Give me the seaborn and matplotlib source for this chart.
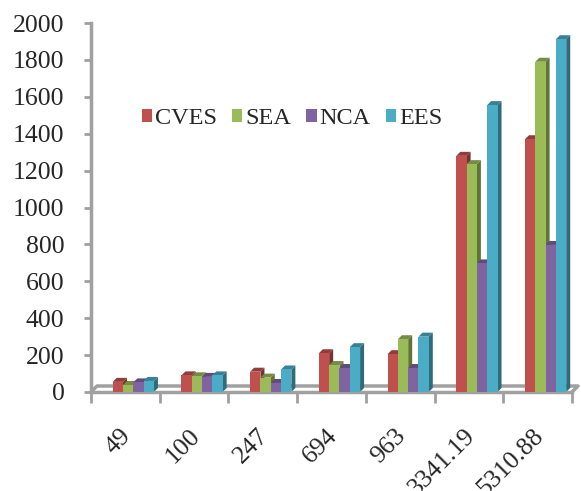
import numpy as np
import pandas as pd
import matplotlib
matplotlib.use("Agg")
import matplotlib.pyplot as plt
from matplotlib.patches import Polygon
from matplotlib.lines import Line2D
import seaborn as sns

# ---- data ----
categories = ["49", "100", "247", "694", "963", "3341.19", "5310.88"]
series_names = ["CVES", "SEA", "NCA", "EES"]
cves = [55, 90, 110, 210, 205, 1280, 1370]
sea = [38, 85, 78, 146, 286, 1235, 1790]
nca = [52, 82, 49, 130, 130, 697, 797]
ees = [60, 90, 122, 243, 300, 1555, 1912]
y_ticks = [0, 200, 400, 600, 800, 1000, 1200, 1400, 1600, 1800, 2000]
colors = ["#C0504D", "#9BBB59", "#8064A2", "#4BACC6"]

df = pd.DataFrame({
    "cat": categories * 4,
    "series": sum([[s] * len(categories) for s in series_names], []),
    "value": cves + sea + nca + ees,
})

sns.set_style("white")
plt.rcParams["font.family"] = ["Liberation Serif", "DejaVu Serif"]

W, H = 581, 491
fig = plt.figure(figsize=(W / 100, H / 100), dpi=100)
ax_l, ax_r, ax_b, ax_t = 91, 572, 392, 23
ax = fig.add_axes([ax_l / W, 1 - ax_b / H, (ax_r - ax_l) / W, (ax_b - ax_t) / H])

sns.barplot(data=df, x="cat", y="value", hue="series", order=categories,
            hue_order=series_names, palette=colors, width=0.6, saturation=1,
            ax=ax, edgecolor="none", linewidth=0, zorder=3)

shift = 0.616
ax.set_xlim(-shift, len(categories) - shift)
ax.set_ylim(0, 2000)

# pseudo 3D faces derived from each bar patch
px_x = (ax_r - ax_l) / len(categories)  # pixels per category unit
px_y = (ax_b - ax_t) / 2000.0
depth = 4.0
dxd = depth / px_x
dyd = depth / px_y


def shade(c, f):
    r, g, b = matplotlib.colors.to_rgb(c)
    return (r * f, g * f, b * f)


for bar in list(ax.patches):
    x, y = bar.get_x(), bar.get_y()
    w, h = bar.get_width(), bar.get_height()
    if h <= 0:
        continue
    fc = bar.get_facecolor()
    bar.set_zorder(3)
    side = Polygon([(x + w, y), (x + w + dxd, y + dyd), (x + w + dxd, y + h + dyd), (x + w, y + h)],
                   closed=True, facecolor=shade(fc, 0.62), edgecolor="none", zorder=2.5)
    top = Polygon([(x, y + h), (x + dxd, y + h + dyd), (x + w + dxd, y + h + dyd), (x + w, y + h)],
                  closed=True, facecolor=shade(fc, 0.75), edgecolor="none", zorder=2.5)
    ax.add_patch(side)
    ax.add_patch(top)

# axes styling
gray = "#A0A0A0"
for s in ["top", "right"]:
    ax.spines[s].set_visible(False)
for s in ["left", "bottom"]:
    ax.spines[s].set_color(gray)
    ax.spines[s].set_linewidth(2.5)

# floor back edge
fx = 6.0 / (ax_r - ax_l)
fy = 6.0 / (ax_b - ax_t)
ax.add_line(Line2D([0, fx, 1 + fx, 1], [0, fy, fy, 0], transform=ax.transAxes,
                   color=gray, linewidth=2.5, clip_on=False, zorder=1))

ax.set_yticks(y_ticks)
ax.set_yticklabels([str(v) for v in y_ticks], fontsize=18.5)
ax.tick_params(axis="y", which="major", length=5, width=2, color=gray, pad=14, left=True)

pos = np.arange(len(categories))
ax.set_xticks(pos - 0.08)
ax.set_xticklabels(categories, fontsize=18.5, rotation=45, ha="right", va="center",
                   rotation_mode="anchor")
ax.tick_params(axis="x", which="major", length=0, pad=29)
ax.set_xticks(np.arange(len(categories) + 1) - shift, minor=True)
ax.tick_params(axis="x", which="minor", length=8, width=2, color=gray, bottom=True)

ax.set_xlabel("")
ax.set_ylabel("")

leg = ax.get_legend()
if leg is not None:
    leg.remove()
handles = [plt.Rectangle((0, 0), 1, 1, facecolor=c, edgecolor="none") for c in colors]
ax.legend(handles, series_names, loc="center", bbox_to_anchor=(0.418, 0.742),
          ncol=4, frameon=False, fontsize=17.5, handlelength=0.42, handleheight=0.45,
          handletextpad=0.12, columnspacing=0.62, borderpad=0)

fig.savefig("out.png", dpi=100)
